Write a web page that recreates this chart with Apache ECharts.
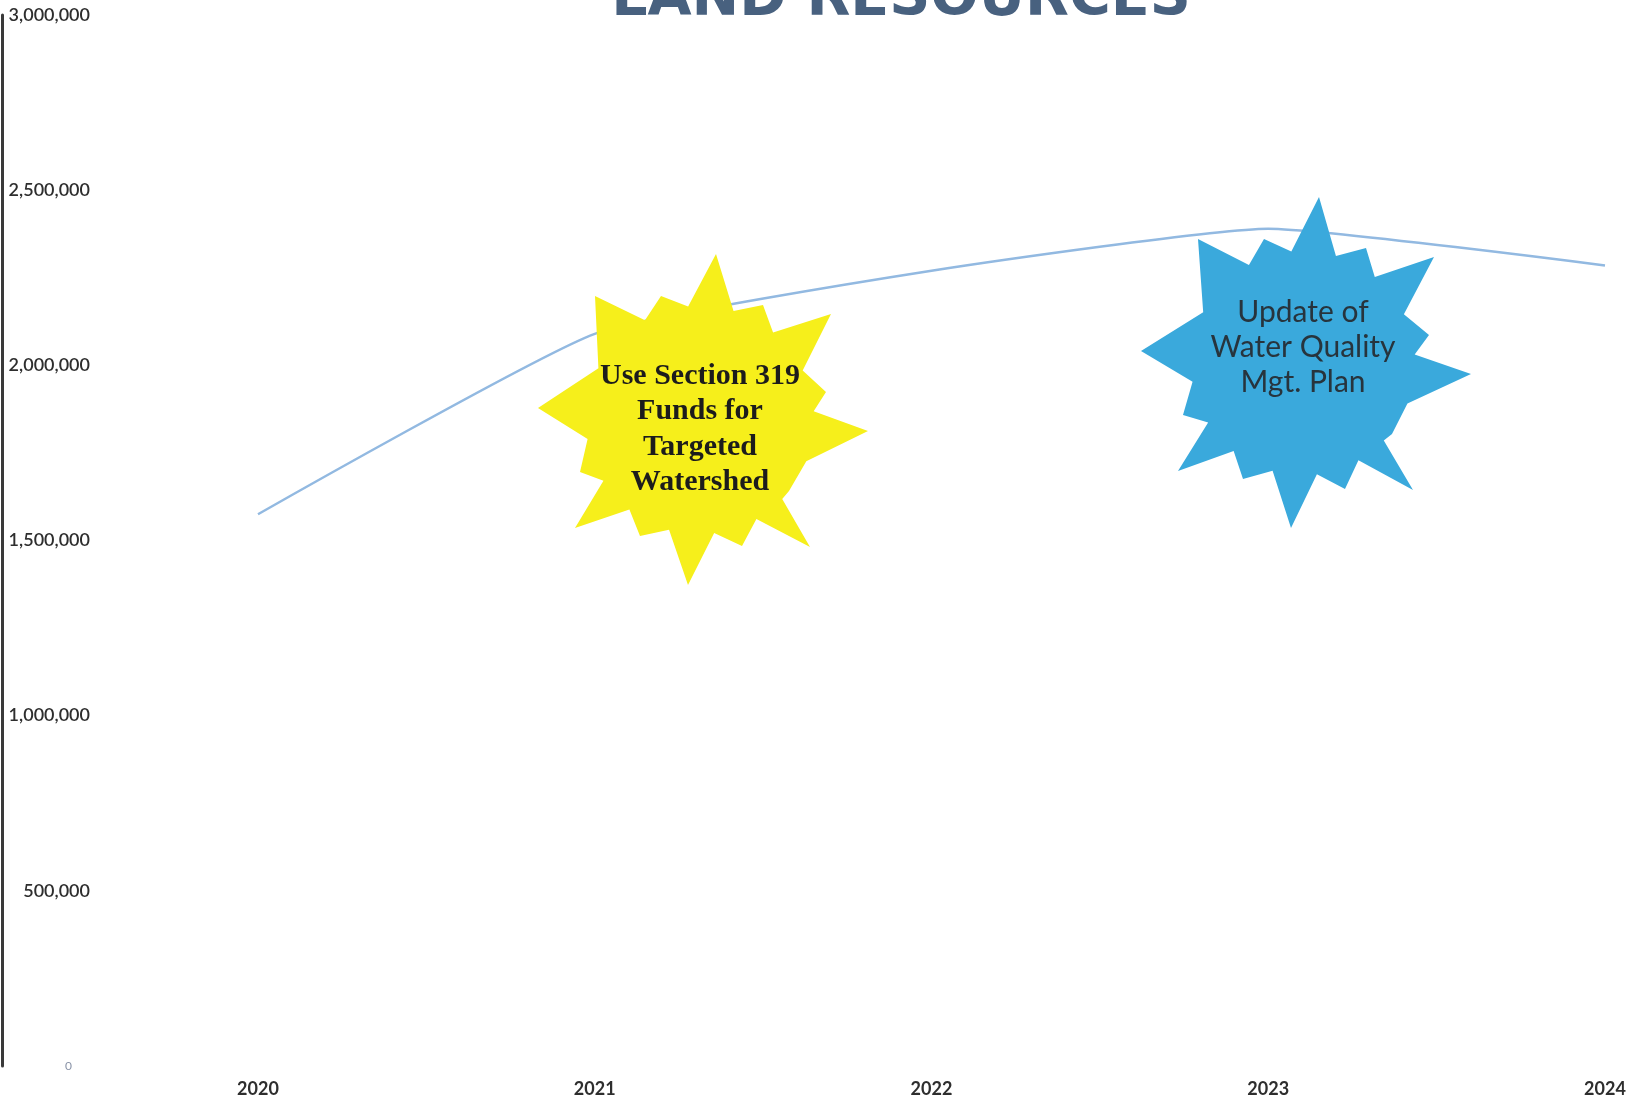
<!DOCTYPE html>
<html><head><meta charset="utf-8">
<script src="https://cdn.jsdelivr.net/npm/echarts@6/dist/echarts.min.js"></script>
<style>html,body{margin:0;padding:0;background:#fff}#c{width:1639px;height:1105px}</style>
</head><body><div id="c"></div>
<script>
// ---- data ----
const years = ['2020', '2021', '2022', '2023', '2024'];
const values = [1575000, 2090000, 2270000, 2390000, 2285000];
const yMin = 0, yMax = 3000000, yStep = 500000;
const titleText = 'LAND RESOURCES';
const noteYellow = ['Use Section 319', 'Funds for', 'Targeted', 'Watershed'];
const noteBlue = ['Update of', 'Water Quality', 'Mgt. Plan'];

// ---- annotation shapes (layout only) ----
const burstTips = [[16,-166],[-39,-124],[-105,-124],[-162,-12],[-120,52],[-125,108],[-60,116],[-12,165],[42,126],[110,127],[89,71],[168,11],[126,-28],[131,-106],[63,-115]];
function burst(cx, cy, tips, rIn) {
  const pts = tips.map(([dx, dy]) => ({a: Math.atan2(dy, dx), r: Math.hypot(dx, dy)})).sort((p, q) => p.a - q.a);
  const out = [];
  for (let i = 0; i < pts.length; i++) {
    const p = pts[i], q = pts[(i + 1) % pts.length];
    let a2 = q.a; if (a2 <= p.a) a2 += 2 * Math.PI;
    const am = (p.a + a2) / 2;
    out.push([cx + p.r * Math.cos(p.a), cy + p.r * Math.sin(p.a)]);
    out.push([cx + rIn * Math.cos(am), cy + rIn * Math.sin(am)]);
  }
  return out;
}

const chart = echarts.init(document.getElementById('c'), null, {renderer: 'canvas'});
chart.setOption({
  animation: false,
  backgroundColor: '#ffffff',
  grid: {left: 258, right: 34, top: 15, bottom: 39},
  xAxis: {
    type: 'category', data: years, boundaryGap: false,
    axisLine: {show: false}, axisTick: {show: false}, splitLine: {show: false},
    axisLabel: {margin: 14, fontFamily: 'Lato', fontSize: 18, fontWeight: 'bold', color: '#2e2e2e'}
  },
  yAxis: [{
    type: 'value', min: yMin, max: yMax, interval: yStep,
    axisLine: {show: false}, axisTick: {show: false}, splitLine: {show: false},
    axisLabel: {
      margin: 168, fontFamily: 'Lato', fontSize: 18, fontWeight: 600, color: '#2e2e2e',
      formatter: v => v === 0 ? '{z|0}' : v.toLocaleString('en-US'),
      rich: {z: {fontSize: 12, fontWeight: 'normal', color: '#8a94a8', padding: [0, 18, 0, 0]}}
    }
  }, {
    type: 'value', min: yMin, max: yMax, position: 'left', offset: 256,
    axisLine: {show: true, lineStyle: {color: '#3a3a3a', width: 3}},
    axisTick: {show: false}, axisLabel: {show: false}, splitLine: {show: false}
  }],
  series: [{
    type: 'line', data: values, yAxisIndex: 0, smooth: 0.15,
    symbol: 'none', lineStyle: {color: '#92b9e1', width: 2.5}, z: 2
  }],
  graphic: [
    {type: 'text', x: 901, y: 0, z: 20,
     style: {text: titleText, font: 'bold 57px "DejaVu Sans"', fill: '#48617f',
             align: 'center', verticalAlign: 'middle', textAlign: 'center', textVerticalAlign: 'middle'}},
    {type: 'polygon', z: 10, shape: {points: burst(700, 420, burstTips, 114)}, style: {fill: '#f6ef1b'}},
    {type: 'text', x: 700, y: 429, z: 11,
     style: {text: noteYellow.join('\n'), font: 'bold 30px "Liberation Serif"', lineHeight: 35.5, fill: '#1c1c1c',
             align: 'center', verticalAlign: 'middle', textAlign: 'center', textVerticalAlign: 'middle'}},
    {type: 'polygon', z: 10, shape: {points: burst(1303, 363, burstTips, 112)}, style: {fill: '#3aa9dc'}},
    {type: 'text', x: 1303, y: 347, z: 11,
     style: {text: noteBlue.join('\n'), font: '30px Lato', lineHeight: 35, fill: '#27343d',
             align: 'center', verticalAlign: 'middle', textAlign: 'center', textVerticalAlign: 'middle'}}
  ]
});
</script></body></html>
